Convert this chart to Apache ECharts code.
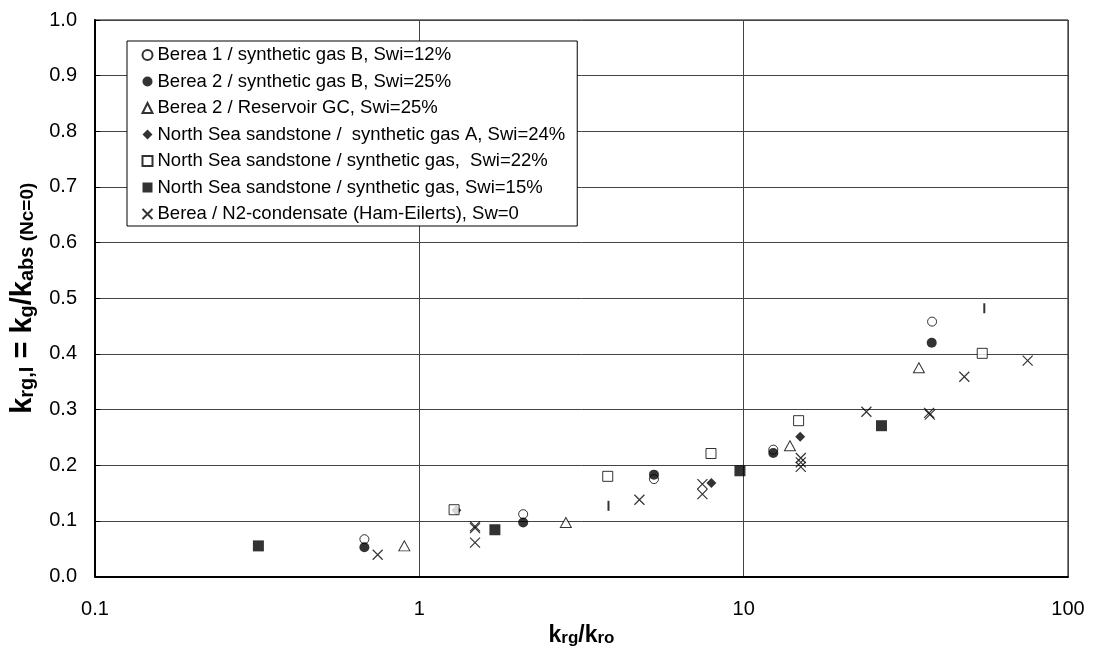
<!DOCTYPE html>
<html>
<head>
<meta charset="utf-8">
<script src="https://cdn.jsdelivr.net/npm/echarts@6/dist/echarts.min.js"></script>
<style>
html,body{margin:0;padding:0;background:#fff;}
#chart{width:1096px;height:652px;}
</style>
</head>
<body>
<div id="chart"></div>
<script>
// ---- data (x = krg/kro, y = krg,I) ----
const seriesNames = [
  'Berea 1 / synthetic gas B, Swi=12%',
  'Berea 2 / synthetic gas B, Swi=25%',
  'Berea 2 / Reservoir GC, Swi=25%',
  'North Sea sandstone /  synthetic gas A, Swi=24%',
  'North Sea sandstone / synthetic gas,  Swi=22%',
  'North Sea sandstone / synthetic gas, Swi=15%',
  'Berea / N2-condensate (Ham-Eilerts), Sw=0'
];
const berea1 = [[0.677,0.067],[2.09,0.112],[5.29,0.175],[12.34,0.228],[38.1,0.458]];
const berea2 = [[0.677,0.0525],[2.09,0.097],[5.29,0.183],[12.34,0.222],[38.0,0.420]];
const berea2GC = [[0.899,0.055],[2.83,0.097],[13.89,0.235],[34.7,0.375]];
const northSeaA = [[1.30,0.119],[7.95,0.168],[14.94,0.251]];
const northSea22 = [[1.28,0.120],[3.81,0.180],[7.93,0.221],[14.77,0.280],[54.4,0.401]];
const northSea15 = [[0.319,0.055],[1.71,0.084],[9.74,0.190],[26.6,0.271]];
const hamEilerts = [[0.744,0.039],[1.485,0.090],[1.485,0.087],[1.485,0.061],[4.77,0.138],
  [7.46,0.166],[7.46,0.148],[15.0,0.213],[15.0,0.205],[15.0,0.197],[23.9,0.296],
  [37.3,0.294],[37.5,0.291],[47.9,0.359],[75.1,0.388]];
const barMarks = [[3.83,0.127],[55.2,0.482]];
const xTicks = [0.1, 1, 10, 100];

const FONT = 'Arial, "Liberation Sans", sans-serif';
const xPath = 'path://M0,0L10,10M10,0L0,10';
const openStyle = {color:'#fff', borderColor:'#000', borderWidth:1};
const fillStyle = {color:'#000', borderColor:'#000', borderWidth:0};

const chart = echarts.init(document.getElementById('chart'), null, {renderer:'canvas'});
chart.setOption({
  animation:false,
  backgroundColor:'#fff',
  grid:{left:94.5, right:28, top:20, bottom:75.5, show:true, borderColor:'#000', borderWidth:1, backgroundColor:'transparent'},
  legend:{
    orient:'vertical', left:127, top:41,
    padding:[4.5,12,2.5,13],
    itemGap:7.5, itemWidth:10, itemHeight:10,
    backgroundColor:'#fff', borderColor:'#000', borderWidth:1, borderRadius:0,
    textStyle:{fontSize:18.5, fontFamily:FONT, color:'#000', lineHeight:19},
    data: seriesNames
  },
  xAxis:{
    type:'log', logBase:10, min:xTicks[0], max:xTicks[xTicks.length-1],
    axisLine:{show:true, onZero:false, lineStyle:{color:'#000', width:2}},
    axisTick:{show:false},
    axisLabel:{fontSize:20, fontFamily:FONT, color:'#000', margin:22.5,
      formatter:function(v){ return v < 1 ? '0.1' : String(Math.round(v)); }},
    splitLine:{show:true, lineStyle:{color:'#444', width:1}},
    minorTick:{show:false}, minorSplitLine:{show:false},
    name:'{b|k}{s|rg}{b|/k}{s|ro}', nameLocation:'middle', nameGap:39.5,
    nameTextStyle:{rich:{
      b:{fontSize:23, fontWeight:'bold', fontFamily:FONT, color:'#000', lineHeight:28, verticalAlign:'bottom'},
      s:{fontSize:17, fontWeight:'bold', fontFamily:FONT, color:'#000', lineHeight:18, verticalAlign:'bottom'}
    }}
  },
  yAxis:{
    type:'value', min:0, max:1, interval:0.1,
    axisLine:{show:true, onZero:false, lineStyle:{color:'#000', width:2}},
    axisTick:{show:true, inside:true, length:5, lineStyle:{color:'#000'}},
    axisLabel:{fontSize:20, fontFamily:FONT, color:'#000', margin:18,
      formatter:function(v){ return v.toFixed(1); }},
    splitLine:{show:true, lineStyle:{color:'#444', width:1}},
    name:'{b|k}{s|rg,I}{b| = k}{s|g}{b|/k}{s|abs}{n| (Nc=0)}', nameLocation:'middle', nameGap:58, nameRotate:90,
    nameTextStyle:{rich:{
      b:{fontSize:29, fontWeight:'bold', fontFamily:FONT, color:'#000', lineHeight:36, verticalAlign:'bottom'},
      s:{fontSize:20, fontWeight:'bold', fontFamily:FONT, color:'#000', lineHeight:22, verticalAlign:'bottom'},
      n:{fontSize:19, fontWeight:'bold', fontFamily:FONT, color:'#000', lineHeight:36, verticalAlign:'bottom'}
    }}
  },
  series:[
    {name:seriesNames[0], type:'scatter', symbol:'circle', symbolSize:9, itemStyle:openStyle, data:berea1},
    {name:seriesNames[1], type:'scatter', symbol:'circle', symbolSize:10, itemStyle:fillStyle, data:berea2},
    {name:seriesNames[2], type:'scatter', symbol:'triangle', symbolSize:[11,10], itemStyle:openStyle, data:berea2GC},
    {name:seriesNames[3], type:'scatter', symbol:'diamond', symbolSize:10, itemStyle:fillStyle, data:northSeaA},
    {name:seriesNames[4], type:'scatter', symbol:'rect', symbolSize:10, itemStyle:openStyle, data:northSea22},
    {name:seriesNames[5], type:'scatter', symbol:'rect', symbolSize:11, itemStyle:fillStyle, data:northSea15},
    {name:seriesNames[6], type:'scatter', symbol:xPath, symbolSize:10, itemStyle:{color:'none', borderColor:'#000', borderWidth:1.2}, data:hamEilerts},
    {name:'marks', type:'scatter', symbol:'rect', symbolSize:[2,10], itemStyle:fillStyle, data:barMarks}
  ]
});
</script>
</body>
</html>
